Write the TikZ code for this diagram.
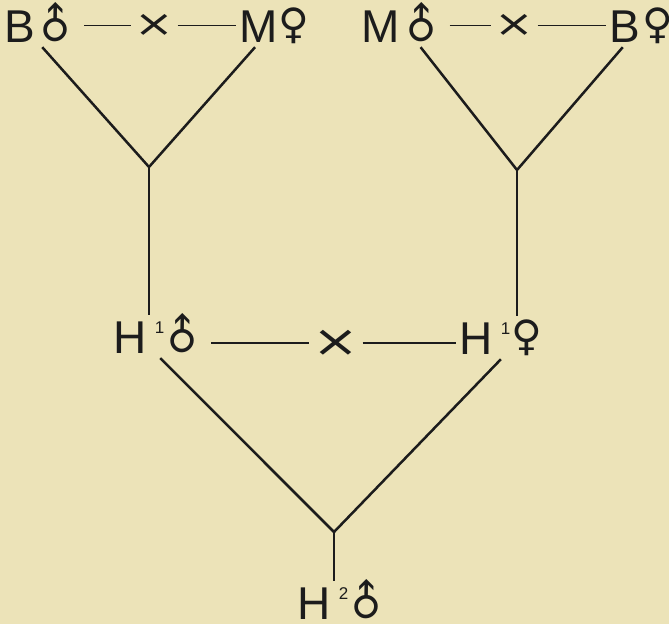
\documentclass[tikz,border=0pt]{standalone}
\usepackage{fontspec}
\setmainfont{Liberation Sans}
\newfontfamily\symfont{DejaVu Sans}
\usepackage{graphicx}
\usetikzlibrary{calc}
\definecolor{ink}{HTML}{1C1C1C}
\definecolor{paper}{HTML}{ECE3B8}
\newcommand{\malesym}{{\symfont\fontsize{42}{42}\selectfont\raisebox{2pt}{\rotatebox[origin=c]{45}{♂}}}}
\newcommand{\femsym}{{\symfont\fontsize{42}{42}\selectfont\raisebox{4pt}{♀}}}
\newcommand{\gen}[1]{\hspace{8pt}\raisebox{20pt}{\fontsize{17}{17}\selectfont #1}\hspace{-2pt}}
\begin{document}
\begin{tikzpicture}[x=1pt,y=-1pt,
  person/.style={anchor=base west,inner xsep=4pt,inner ysep=5pt,text height=33pt,text depth=0pt,text=ink,font=\fontsize{46}{50}\selectfont},
  crossmark/.style={inner sep=3pt,text=ink,font=\symfont\fontsize{37}{37}\selectfont},
  line/.style={draw=ink,line width=2.5pt},
  tie/.style={draw=ink,line width=1.5pt}]
\fill[paper] (0,0) rectangle (669,624);
\useasboundingbox (0,0) rectangle (669,624);
\node[person] (Bm) at (0.5,42) {B\hspace{-4pt}\malesym};
\node[person] (Mf) at (235.5,42) {M\hspace{0pt}\femsym};
\node[person] (Mm) at (357.5,42) {M\hspace{-3pt}\malesym};
\node[person] (Bf) at (605.5,42) {B\hspace{2pt}\femsym};
\node[crossmark] (x1) at (154.5,25.5) {\scalebox{1.28}[1]{×}};
\node[crossmark] (x2) at (514.5,25.5) {\scalebox{1.28}[1]{×}};
\coordinate (j1) at (149,167);
\coordinate (j2) at (517,170);
\node[person] (H1m) at (109.5,353) {H\gen{1}\hspace{-4pt}\malesym};
\node[person] (H1f) at (455.5,354) {H\gen{1}\hspace{3pt}\femsym};
\node[crossmark,font=\symfont\fontsize{44}{44}\selectfont] (x3) at (336,343) {\scalebox{1.27}[1]{×}};
\coordinate (j3) at (334,532);
\node[person] (H2m) at (293.5,619) {H\gen{2}\hspace{-4pt}\malesym};
\draw[tie] (Bm) -- (x1) -- (Mf);
\draw[tie] (Mm) -- (x2) -- (Bf);
\draw[line] (Bm.south) -- (j1) -- (Mf);
\draw[line] (Mm) -- (j2) -- (Bf);
\draw[line] (j1) -- (j1 |- H1m.north);
\draw[line] (j2) -- (j2 |- H1f.north);
\draw[tie] (H1m.east |- x3) -- (x3) -- (x3 -| H1f.west);
\draw[line] (H1m.south) -- (j3) -- (H1f.south);
\draw[line] (j3) -- (j3 |- H2m.north);
\end{tikzpicture}
\end{document}
